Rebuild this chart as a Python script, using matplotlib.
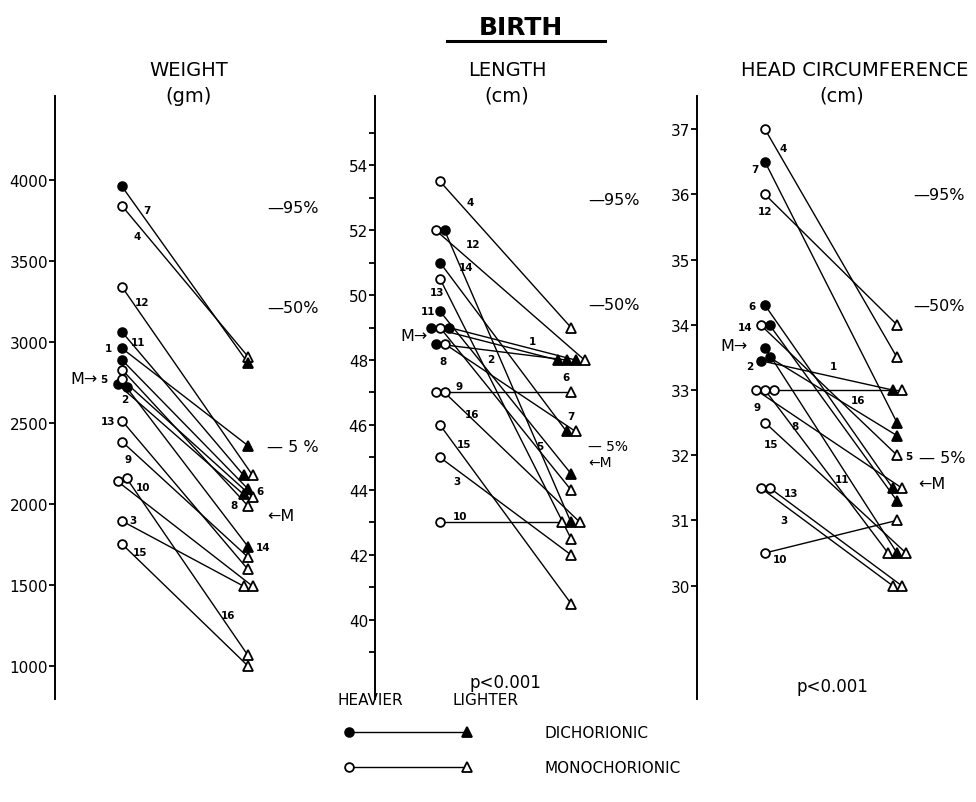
import matplotlib
matplotlib.use("Agg")
import matplotlib.pyplot as plt
from matplotlib.transforms import blended_transform_factory
import numpy as np

plt.rcParams['font.family'] = ['DejaVu Sans']

# ---------------- data ----------------
cases = [str(i) for i in range(1, 17)]
dichorionic = [True, True, False, False, False, True, True, False,
               False, False, True, False, False, True, False, False]

weight_heavier = [2961, 2740, 1895, 3840, 2770, 2889, 3960, 2830,
                  2385, 2140, 3062, 3340, 2514, 2720, 1753, 2160]
weight_lighter = [2360, 2060, 1493, 2910, 2043, 2093, 2870, 1988,
                  1672, 1493, 2178, 2178, 1596, 1737, 1000, 1065]

length_heavier = [49.0, 48.5, 45.0, 53.5, 49.0, 49.0, 51.0, 48.5,
                  47.0, 43.0, 49.5, 52.0, 50.5, 52.0, 46.0, 47.0]
length_lighter = [48.0, 48.0, 42.0, 49.0, 44.0, 48.0, 45.8, 45.8,
                  47.0, 43.0, 44.5, 48.0, 42.5, 43.0, 40.5, 43.0]

head_heavier = [33.45, 33.5, 31.5, 37.0, 34.0, 34.3, 36.5, 33.0,
                33.0, 30.5, 33.65, 36.0, 31.5, 34.0, 32.5, 33.0]
head_lighter = [33.0, 32.3, 30.0, 33.5, 32.0, 31.5, 32.5, 31.5,
                30.5, 31.0, 30.5, 34.0, 30.0, 31.3, 30.5, 33.0]

weight_ticks = [1000, 1500, 2000, 2500, 3000, 3500, 4000]
length_ticks = [40, 42, 44, 46, 48, 50, 52, 54]
head_ticks = [30, 31, 32, 33, 34, 35, 36, 37]

weight_pct = {"95%": 3830, "50%": 3216, "5%": 2358}
length_pct = {"95%": 52.95, "50%": 49.72, "5%": 45.35}
head_pct = {"95%": 36.0, "50%": 34.29, "5%": 31.97}
weight_mean = (2772, 1932)   # heavier, lighter
length_mean = (48.74, 44.85)
head_mean = (33.69, 31.56)

# ---------------- layout ----------------
W, H = 976, 803
fig = plt.figure(figsize=(W / 100, H / 100), dpi=100)
ov = fig.add_axes([0, 0, 1, 1])
ov.set_xlim(0, W)
ov.set_ylim(H, 0)
ov.axis('off')

TOP, BOT = 97, 700

panels = [
    dict(name='weight', x0=55, x1=330, xl=122, xr=248, ylim=(796.3, 4518.5),
         ticks=weight_ticks, minor=[], hv=weight_heavier, lt=weight_lighter,
         pct=weight_pct, mean=weight_mean, pctx=267, fivex=267, mx_left=267,
         mx_right=98, five="— 5 %", low_fs=11.5, labels={
             '7': ('L', 25, 24), '4': ('L', 15, 30), '12': ('L', 20, 15),
             '11': ('L', 16, 10), '1': ('L', -14, 0), '2': ('L', 3, 15),
             '5': ('L', -18, 0), '13': ('L', -14, 0), '9': ('L', 6, 17),
             '10': ('L', 21, 6), '3': ('L', 11, -1), '15': ('L', 18, 8),
             '16': ('R', -20, -40), '6': ('R', 12, 2), '8': ('R', -14, -1),
             '14': ('R', 15, 0)}),
    dict(name='length', x0=375, x1=660, xl=440, xr=571, ylim=(37.56, 56.13),
         ticks=length_ticks, minor=[39, 41, 43, 45, 47, 49, 51, 53, 55],
         hv=length_heavier, lt=length_lighter,
         pct=length_pct, mean=length_mean, pctx=588, fivex=588, mx_left=588,
         mx_right=428, five="— 5%", low_fs=10, labels={
             '4': ('L', 30, 21), '12': ('L', 33, 14), '14': ('L', 26, 37),
             '13': ('L', -3, 13), '11': ('L', -12, 0), '1': ('R', -39, -19),
             '2': ('R', -80, -1), '8': ('L', 3, 17), '6': ('R', -5, 17),
             '9': ('L', 19, -6), '16': ('L', 32, 22), '7': ('R', 0, -15),
             '15': ('L', 24, 19), '5': ('R', -31, -44), '3': ('L', 17, 24),
             '10': ('L', 20, -6)}),
    dict(name='head', x0=697, x1=976, xl=765, xr=897, ylim=(28.26, 37.51),
         ticks=head_ticks, minor=[], hv=head_heavier, lt=head_lighter,
         pct=head_pct, mean=head_mean, pctx=913, fivex=919, mx_left=918,
         mx_right=748, five="— 5%", low_fs=11.5, labels={
             '4': ('L', 18, 19), '7': ('L', -10, 7), '12': ('L', 0, 17),
             '6': ('L', -13, 1), '14': ('L', -20, 2), '2': ('L', -15, 9),
             '1': ('R', -64, -24), '16': ('R', -39, 10), '9': ('L', -8, 17),
             '8': ('L', 30, 36), '15': ('L', 6, 21), '5': ('R', 12, 1),
             '11': ('R', -55, -74), '13': ('L', 26, 5), '3': ('L', 19, 32),
             '10': ('L', 15, 6)}),
]


def spread(values, ppu_y, ppu_x, tol_px=4.0, gap_px=9.0):
    vals = np.asarray(values, float)
    order = np.argsort(vals, kind='stable')
    offs = np.zeros(len(vals))
    groups, cur = [], [order[0]]
    for i in order[1:]:
        if abs(vals[i] - vals[cur[-1]]) * ppu_y < tol_px:
            cur.append(i)
        else:
            groups.append(cur)
            cur = [i]
    groups.append(cur)
    for g in groups:
        g = sorted(g)
        n = len(g)
        for k, i in enumerate(g):
            offs[i] = (k - (n - 1) / 2) * gap_px / ppu_x
    return offs


for p in panels:
    x0, x1 = p['x0'], p['x1']
    ax = fig.add_axes([x0 / W, 1 - BOT / H, (x1 - x0) / W, (BOT - TOP) / H])
    ax.patch.set_alpha(0)
    ppu_x = p['xr'] - p['xl']
    ax.set_xlim((x0 - p['xl']) / ppu_x, (x1 - p['xl']) / ppu_x)
    ax.set_ylim(*p['ylim'])
    ppu_y = (BOT - TOP) / (p['ylim'][1] - p['ylim'][0])
    for s in ['top', 'right', 'bottom']:
        ax.spines[s].set_visible(False)
    ax.spines['left'].set_linewidth(1.4)
    ax.set_xticks([])
    ax.set_yticks(p['ticks'])
    ax.set_yticklabels([str(t) for t in p['ticks']])
    if p['minor']:
        ax.set_yticks(p['minor'], minor=True)
    ax.tick_params(axis='y', which='major', direction='out', length=4, width=1.3,
                   labelsize=11, pad=1)
    ax.tick_params(axis='y', which='minor', direction='out', length=4, width=1.3)

    hv, lt = p['hv'], p['lt']
    xo_l = spread(hv, ppu_y, ppu_x)
    xo_r = 1 + spread(lt, ppu_y, ppu_x)
    for i in range(len(cases)):
        ax.plot([xo_l[i], xo_r[i]], [hv[i], lt[i]], color='black', lw=1.0, zorder=2)
    for i in range(len(cases)):
        fc = 'black' if dichorionic[i] else 'white'
        ax.plot(xo_l[i], hv[i], marker='o', ms=6.3, mfc=fc, mec='black', mew=1.3,
                zorder=4, clip_on=False)
        ax.plot(xo_r[i], lt[i], marker='^', ms=7.0, mfc=fc, mec='black', mew=1.3,
                zorder=4, clip_on=False)

    for i, c in enumerate(cases):
        side, dx, dy = p['labels'][c]
        xx = 0 if side == 'L' else 1
        yy = hv[i] if side == 'L' else lt[i]
        ax.annotate(c, xy=(xx, yy), xytext=(dx * 0.72, -dy * 0.72),
                    textcoords='offset points', ha='center', va='center',
                    fontsize=7.5, fontweight='bold', zorder=5)

    tr = blended_transform_factory(ov.transData, ax.transData)
    ax.text(p['pctx'], p['pct']['95%'], "—95%", transform=tr, ha='left',
            va='center', fontsize=11.5)
    ax.text(p['pctx'], p['pct']['50%'], "—50%", transform=tr, ha='left',
            va='center', fontsize=11.5)
    ax.text(p['fivex'], p['pct']['5%'], p['five'], transform=tr, ha='left',
            va='center', fontsize=p['low_fs'])
    ax.text(p['mx_left'], p['mean'][1], "←M", transform=tr, ha='left',
            va='center', fontsize=p['low_fs'])
    ax.text(p['mx_right'], p['mean'][0], "M→", transform=tr, ha='right',
            va='center', fontsize=11.5)

# ---------------- titles ----------------
ov.text(521, 28, "BIRTH", ha='center', va='center', fontsize=18, fontweight='bold')
ov.plot([447, 605], [42, 42], color='black', lw=2.2)
ov.text(189, 70, "WEIGHT", ha='center', va='center', fontsize=14)
ov.text(189, 96, "(gm)", ha='center', va='center', fontsize=14)
ov.text(507, 70, "LENGTH", ha='center', va='center', fontsize=14)
ov.text(507, 96, "(cm)", ha='center', va='center', fontsize=14)
ov.text(855, 70, "HEAD CIRCUMFERENCE", ha='center', va='center', fontsize=14)
ov.text(842, 96, "(cm)", ha='center', va='center', fontsize=14)

ov.text(505, 683, "p<0.001", ha='center', va='center', fontsize=12)
ov.text(832, 687, "p<0.001", ha='center', va='center', fontsize=12)

# ---------------- legend ----------------
ov.text(370, 701, "HEAVIER", ha='center', va='center', fontsize=11)
ov.text(486, 701, "LIGHTER", ha='center', va='center', fontsize=11)
for yy, fc, lab in [(733, 'black', "DICHORIONIC"), (768, 'white', "MONOCHORIONIC")]:
    ov.plot([349, 467], [yy, yy], color='black', lw=1.0)
    ov.plot(349, yy, marker='o', ms=6.3, mfc=fc, mec='black', mew=1.3)
    ov.plot(467, yy, marker='^', ms=7.0, mfc=fc, mec='black', mew=1.3)
    ov.text(545, yy + 1, lab, ha='left', va='center', fontsize=11)

fig.savefig("out.png", dpi=100)
